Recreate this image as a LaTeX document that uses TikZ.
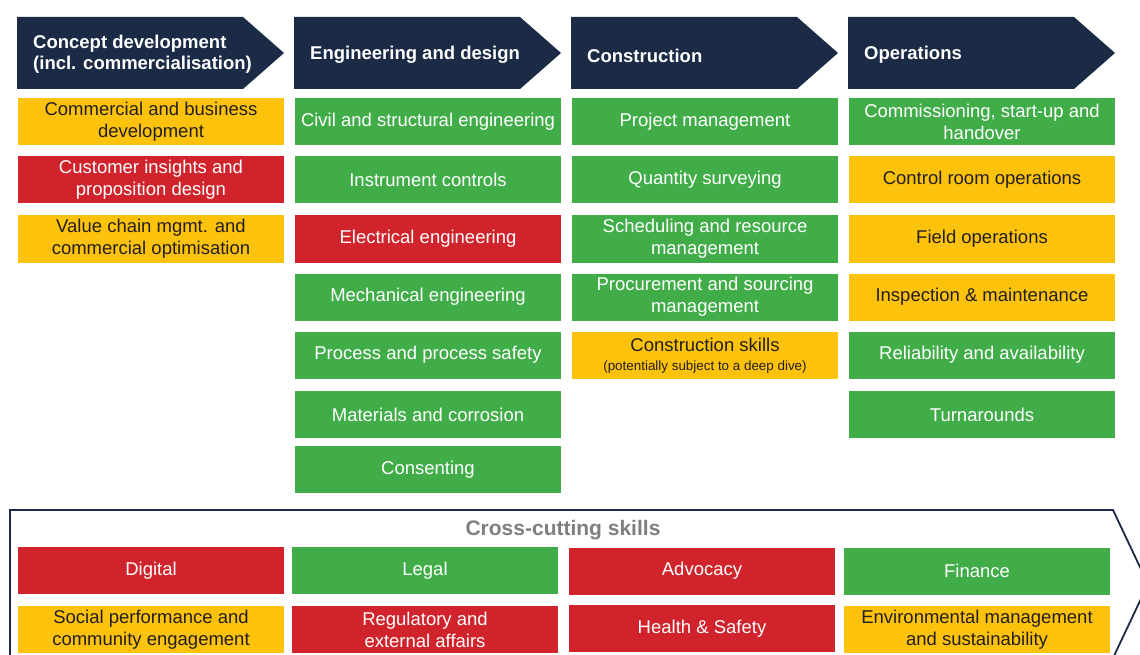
\documentclass[tikz,border=0pt]{standalone}
\usepackage{fontspec}
\setmainfont{Liberation Sans}
\definecolor{navy}{HTML}{1B2A45}
\definecolor{cgreen}{HTML}{41AD49}
\definecolor{cred}{HTML}{D0232B}
\definecolor{cyellow}{HTML}{FDC20C}
\definecolor{ink}{HTML}{231F20}
\definecolor{titlegrey}{HTML}{7F7F7F}
\begin{document}
\begin{tikzpicture}[x=1pt,y=-1pt,
  skill/.style={minimum width=266pt, minimum height=47pt, inner sep=0pt,
    align=center, font=\fontsize{18.5}{22}\selectfont},
  sg/.style={skill, fill=cgreen, text=white},
  sr/.style={skill, fill=cred, text=white},
  sy/.style={skill, fill=cyellow, text=ink},
  phasetext/.style={anchor=west, align=left, text=white, inner sep=0pt,
    font=\bfseries\fontsize{18.5}{21.5}\selectfont},
  frame/.style={draw=navy, line width=1.8pt}]
\clip (0,0) rectangle (1140,655);
\fill[white] (0,0) rectangle (1140,655);

% phase arrows
\foreach \x in {17,294,571,848}
  \fill[navy] (\x,17) -- ++(226,0) -- ++(41,36) -- ++(-41,36) -- ++(-226,0) -- cycle;
\node[phasetext] (p1) at (33,54) {Concept development\\(incl. commercialisation)};
\node[phasetext] (p2) at (310,54.5) {Engineering and design};
\node[phasetext] (p3) at (587,55.5) {Construction};
\node[phasetext] (p4) at (864,54.5) {Operations};

% concept development
\node[sy] (c1) at (151,121.5) {Commercial and business\\development};
\node[sr] (c2) at (151,180) {Customer insights and\\proposition design};
\node[sy] (c3) at (151,239) {Value chain mgmt. and\\commercial optimisation};

% engineering and design
\node[sg] (e1) at (428,121.5) {Civil and structural engineering};
\node[sg] (e2) at (428,180) {Instrument controls};
\node[sr] (e3) at (428,239) {Electrical engineering};
\node[sg] (e4) at (428,297) {Mechanical engineering};
\node[sg] (e5) at (428,355) {Process and process safety};
\node[sg] (e6) at (428,414.5) {Materials and corrosion};
\node[sg] (e7) at (428,469.5) {Consenting};

% construction
\node[sg] (k1) at (705,121.5) {Project management};
\node[sg] (k2) at (705,180) {Quantity surveying};
\node[sg] (k3) at (705,239) {Scheduling and resource\\management};
\node[sg] (k4) at (705,297) {Procurement and sourcing\\management};
\node[sy] (k5) at (705,355.5) {Construction skills\\[-3pt]{\fontsize{13.4}{15}\selectfont (potentially subject to a deep dive)}};

% operations
\node[sg] (o1) at (982,121.5) {Commissioning, start-up and\\handover};
\node[sy] (o2) at (982,180) {Control room operations};
\node[sy] (o3) at (982,239) {Field operations};
\node[sy] (o4) at (982,297) {Inspection \& maintenance};
\node[sg] (o5) at (982,355) {Reliability and availability};
\node[sg] (o6) at (982,414.5) {Turnarounds};

% cross-cutting frame
\draw[frame] (10,680) -- (10,510) -- (1113,510) -- (1148,584) -- (1113,658) -- (10,658);
\node[text=titlegrey, font=\bfseries\fontsize{21}{24}\selectfont] (xt) at (563,530) {Cross-cutting skills};

\node[sr] (x1) at (151,570.5) {Digital};
\node[sg] (x2) at (425,570.5) {Legal};
\node[sr] (x3) at (702,571) {Advocacy};
\node[sg] (x4) at (977,571) {Finance};
\node[sy] (x5) at (151,629.5) {Social performance and\\community engagement};
\node[sr] (x6) at (425,629.5) {Regulatory and\\external affairs};
\node[sr] (x7) at (702,628.5) {Health \& Safety};
\node[sy] (x8) at (977,629.5) {Environmental management\\and sustainability};
\end{tikzpicture}
\end{document}
